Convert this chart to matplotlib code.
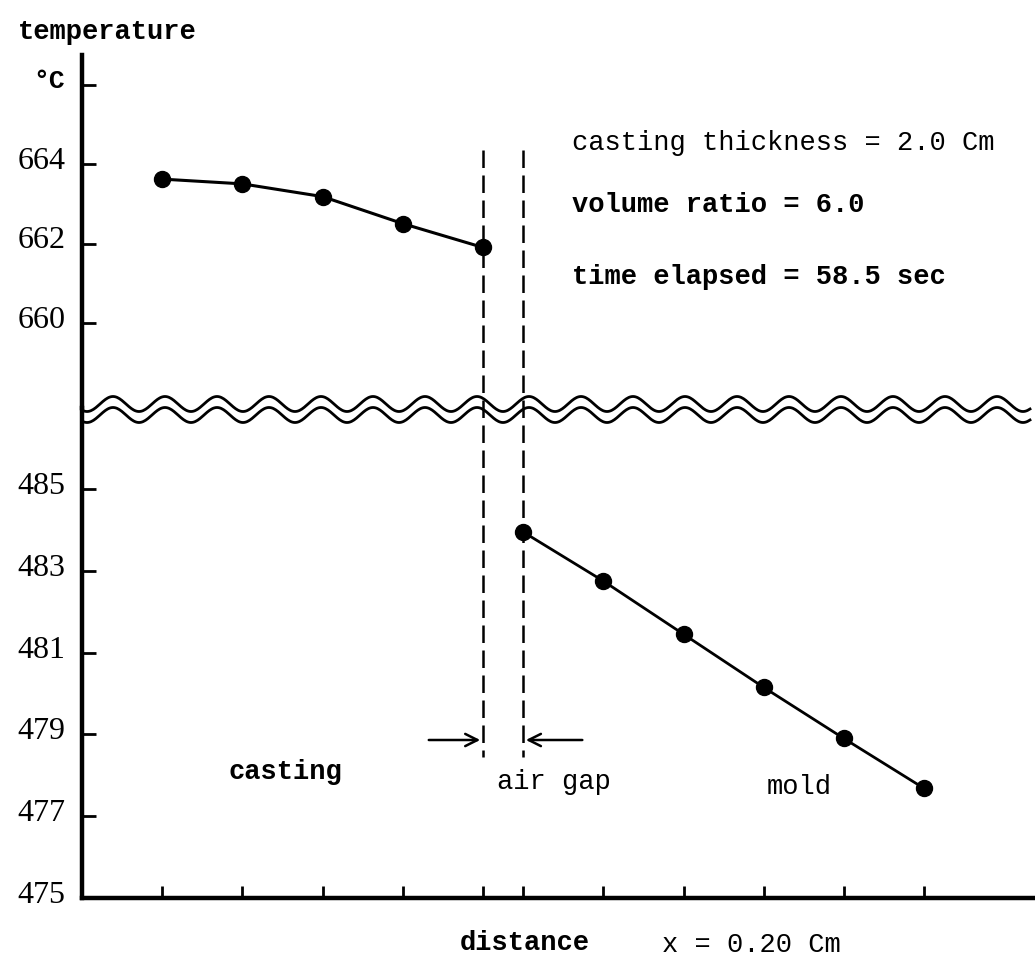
import numpy as np
import matplotlib
matplotlib.use('Agg')
import matplotlib.pyplot as plt
from matplotlib.lines import Line2D
import matplotlib.transforms as mtransforms

# data (distance in cm, temperature in deg C)
casting_x = [0.2, 0.4, 0.6, 0.8, 1.0]
casting_t = [663.62, 663.5, 663.18, 662.5, 661.9]
mold_x = [1.1, 1.3, 1.5, 1.7, 1.9, 2.1]
mold_t = [483.95, 482.75, 481.45, 480.15, 478.9, 477.68]
gap_edges = [1.0, 1.1]
top_ticks = [660, 662, 664, 666]
top_labels = ['660', '662', '664', '°C']
bot_ticks = [475, 477, 479, 481, 483, 485]
bot_labels = ['475', '477', '479', '481', '483', '485']

W, H = 1035, 967
fig = plt.figure(figsize=(W / 100, H / 100), dpi=100)


def fx(px):
    return px / W


def fy(py):
    return 1 - py / H


x0, x1 = 82, 1035
ax_top = fig.add_axes([fx(x0), fy(408), fx(x1 - x0), (408 - 55) / H])
ax_bot = fig.add_axes([fx(x0), fy(898), fx(x1 - x0), (898 - 408) / H])

xmax = (x1 - x0) / 80.2 * 0.2
for ax in (ax_top, ax_bot):
    ax.set_xlim(0, xmax)
    ax.spines['top'].set_visible(False)
    ax.spines['right'].set_visible(False)
    ax.spines['left'].set_linewidth(3.2)
    ax.tick_params(axis='y', direction='in', length=10, width=2, pad=12)
    ax.patch.set_alpha(0)

ax_top.spines['bottom'].set_visible(False)
ax_bot.spines['bottom'].set_linewidth(3.2)

# y ranges from pixel scale (~40 px per degree)
ax_top.set_ylim(660 - (408 - 323) / 39.75, 664 + (164 - 55) / 39.75)
ax_bot.set_ylim(475, 485 + (489 - 408) / 40.9)

tick_font = dict(family='Liberation Serif', size=23)
ax_top.set_yticks(top_ticks)
ax_top.set_yticklabels(top_labels, **tick_font)
lab = ax_top.get_yticklabels()[-1]
lab.set_fontfamily('Liberation Mono')
lab.set_fontweight('bold')
lab.set_fontsize(19)
ax_top.set_xticks([])

ax_bot.set_yticks(bot_ticks)
ax_bot.set_yticklabels(bot_labels, **tick_font)
ax_bot.set_xticks(casting_x + mold_x)
ax_bot.set_xticklabels([])
ax_bot.tick_params(axis='x', direction='in', length=9, width=2)

# shift y tick labels a bit upward like the original
up = mtransforms.ScaledTranslation(0, 6 / 100, fig.dpi_scale_trans)
for ax in (ax_top, ax_bot):
    for t in ax.get_yticklabels():
        t.set_transform(t.get_transform() + up)

# data lines
ax_top.plot(casting_x, casting_t, color='black', lw=2.2, marker='o', ms=11.5, clip_on=False)
ax_bot.plot(mold_x, mold_t, color='black', lw=2.0, marker='o', ms=11.5, clip_on=False)

# dashed air gap boundaries
blend = mtransforms.blended_transform_factory(ax_bot.transData, fig.transFigure)
for xe in gap_edges:
    fig.add_artist(Line2D([xe, xe], [fy(150), fy(757)], transform=blend,
                          color='black', lw=1.8, dashes=(7, 3)))

# wavy break lines
xs = np.linspace(fx(84), fx(1030), 800)
phase = 2 * np.pi * (xs * W - 113) / 52
for yc in (404, 415):
    ys = fy(yc) + (7.5 / H) * np.cos(phase)
    fig.add_artist(Line2D(xs, ys, color='black', lw=2.0, transform=fig.transFigure))

# air gap arrows
ay = 485 - (740 - 489) / 40.9
ax_bot.annotate('', xy=(1.0, ay), xytext=(1.0 - 57 / 401.0, ay),
                arrowprops=dict(arrowstyle='->', lw=1.8, color='black', mutation_scale=22))
ax_bot.annotate('', xy=(1.1, ay), xytext=(1.1 + 62 / 401.0, ay),
                arrowprops=dict(arrowstyle='->', lw=1.8, color='black', mutation_scale=22))

mono = 'Liberation Mono'
fs = 19.5
fig.text(fx(18), fy(32), 'temperature', family=mono, weight='bold', size=fs, va='center')
fig.text(fx(572), fy(143), 'casting thickness = 2.0 Cm', family=mono, size=fs, va='center')
fig.text(fx(572), fy(205), 'volume ratio = 6.0', family=mono, weight='bold', size=fs, va='center')
fig.text(fx(572), fy(277), 'time elapsed = 58.5 sec', family=mono, weight='bold', size=fs, va='center')
fig.text(fx(228), fy(772), 'casting', family=mono, weight='bold', size=fs, va='center')
fig.text(fx(497), fy(782), 'air gap', family=mono, size=fs, va='center')
fig.text(fx(767), fy(787), 'mold', family=mono, size=fs, va='center')
fig.text(fx(460), fy(943), 'distance', family=mono, weight='bold', size=fs, va='center')
fig.text(fx(662), fy(945), 'x = 0.20 Cm', family=mono, size=fs, va='center')

fig.savefig('out.png', dpi=100)
